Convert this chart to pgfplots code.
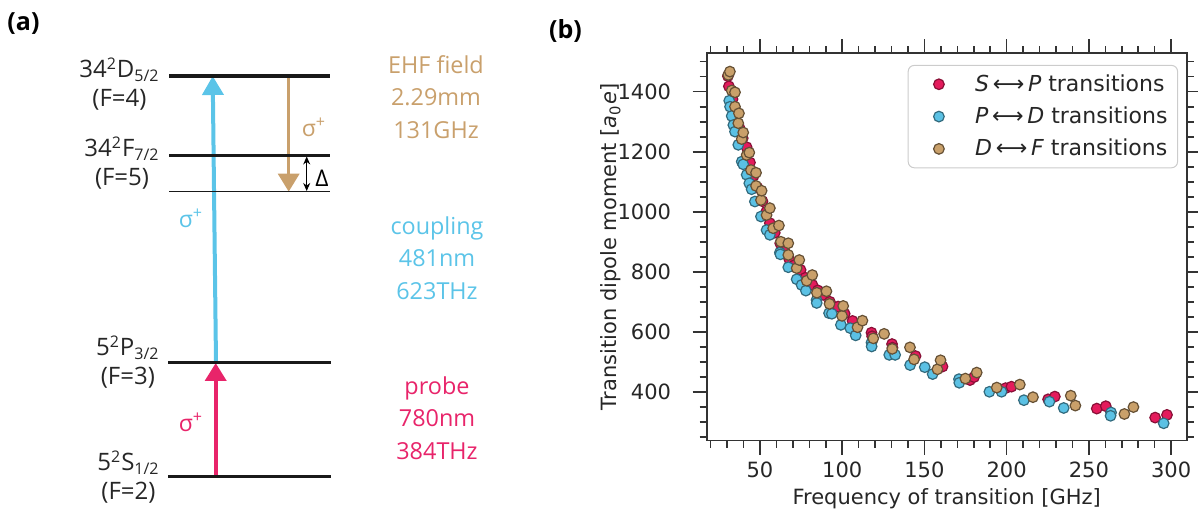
\documentclass[border=0pt]{standalone}
\usepackage{pgfplots}
\pgfplotsset{compat=1.18}
\usepackage{fontspec}
\setmainfont{DejaVu Sans}
\newfontfamily\osans{Open Sans}
\usetikzlibrary{arrows.meta}
\definecolor{cRed}{HTML}{E41B5C}
\definecolor{cBlue}{HTML}{5BC1E4}
\definecolor{cTan}{HTML}{C9A06A}
\definecolor{aRed}{HTML}{E8246A}
\definecolor{aBlue}{HTML}{5BC4E8}
\definecolor{aTan}{HTML}{C9A06C}
\begin{document}
\begin{tikzpicture}
% ---------------- panel (a) ----------------
\begin{axis}[at={(0pt,0pt)}, anchor=south west, scale only axis, width=280pt, height=256pt,
  xmin=0, xmax=560, ymin=0, ymax=512, y dir=reverse, hide axis, clip=false]
 % arrows
 \addplot[aBlue, mark=none, line width=2pt, -{Triangle[width=10.5pt,length=9.5pt]}] coordinates {(216,362.7) (212.7,76)};
 \addplot[aRed, mark=none, line width=2pt, -{Triangle[width=10.5pt,length=9pt]}] coordinates {(215.7,476.7) (215.7,363)};
 \addplot[aTan, mark=none, line width=1.7pt, -{Triangle[width=10.5pt,length=9pt]}] coordinates {(288.7,76) (288.7,191.7)};
 \addplot[black, mark=none, line width=0.5pt, {Stealth[length=4pt,width=3.5pt]}-{Stealth[length=4pt,width=3.5pt]}] coordinates {(306.7,156.5) (306.7,191)};
 % levels
 \addplot[black!90, mark=none, line width=1.65pt] coordinates {(169,76) (330,76)};
 \addplot[black!90, mark=none, line width=1.65pt] coordinates {(169,155.3) (330,155.3)};
 \addplot[black!90, mark=none, line width=0.65pt] coordinates {(169,191.7) (330,191.7)};
 \addplot[black!90, mark=none, line width=1.65pt] coordinates {(168,362.7) (331,362.7)};
 \addplot[black!90, mark=none, line width=1.65pt] coordinates {(168,476.7) (331,476.7)};
 % labels
 \node[font={\osans\bfseries\fontsize{12.5}{13}\selectfont}] at (axis cs:23.5,24) {(a)};
 \node[font={\osans\bfseries\fontsize{12.5}{13}\selectfont}] at (axis cs:565.5,31) {(b)};
 \tikzset{lvl/.style={anchor=east, align=center, inner sep=0pt, text=black!85, font={\osans\fontsize{12}{14.5}\selectfont}}}
 \node[lvl] at (axis cs:160,84) {34\textsuperscript{2}D\textsubscript{5/2}\\(F=4)};
 \node[lvl] at (axis cs:160,163) {34\textsuperscript{2}F\textsubscript{7/2}\\(F=5)};
 \node[lvl] at (axis cs:160,362) {5\textsuperscript{2}P\textsubscript{3/2}\\(F=3)};
 \node[lvl] at (axis cs:160,477) {5\textsuperscript{2}S\textsubscript{1/2}\\(F=2)};
 \tikzset{rt/.style={align=center, inner sep=0pt, font={\osans\fontsize{11.7}{16.3}\selectfont}}}
 \node[rt, text=aTan] at (axis cs:436,97) {EHF field\\2.29mm\\131GHz};
 \node[rt, text=aBlue] at (axis cs:437,258) {coupling\\481nm\\623THz};
 \node[rt, text=aRed] at (axis cs:437,418) {probe\\780nm\\384THz};
 \tikzset{sg/.style={inner sep=0pt, font={\osans\fontsize{11.5}{13}\selectfont}}}
 \node[sg, text=aTan] at (axis cs:314,127) {σ\textsuperscript{+}};
 \node[sg, text=aBlue] at (axis cs:191,218) {σ\textsuperscript{+}};
 \node[sg, text=aRed] at (axis cs:191,422) {σ\textsuperscript{+}};
 \node[sg, text=black] at (axis cs:322,178) {Δ};
\end{axis}
% ---------------- panel (b) ----------------
\begin{axis}[at={(353.35pt,35.65pt)}, anchor=south west, scale only axis, width=240pt, height=193.7pt,
  xmin=17.6, xmax=309.5, ymin=237, ymax=1528,
  xtick={50,100,...,300}, ytick={400,600,...,1400},
  minor xtick={20,30,...,300}, minor ytick={250,300,...,1500},
  tick align=outside,
  major tick length=7pt, minor tick length=3.5pt,
  axis line style={black!80, line width=0.8pt},
  tick style={black!80, line width=0.8pt},
  tick label style={font=\fontsize{10.5}{12}\selectfont, text=black!85},
  /pgf/number format/assume math mode=true,
  /pgf/number format/1000 sep={},
  xticklabel shift=0pt, yticklabel shift=7.3pt,
  xlabel={Frequency of transition [GHz]},
  ylabel={Transition dipole moment [\textit{a}\textsubscript{0}\textit{e}]},
  xlabel style={at={(axis description cs:0.5,-0.150)}, anchor=center, font=\fontsize{10.5}{12}\selectfont, text=black!85},
  ylabel style={at={(axis description cs:-0.199,0.5)}, anchor=center, font=\fontsize{10.5}{12}\selectfont, text=black!85},
  legend style={at={(0.982,0.970)}, anchor=north east, draw=black!20, rounded corners=3pt, line width=0.5pt,
    fill=white, inner xsep=3pt, inner ysep=2.5pt, row sep=2.3pt, column sep=6.5pt,
    font=\fontsize{11}{12.5}\selectfont, text=black!85},
  legend cell align=left,
  legend image code/.code={\path[draw=none,fill=none] (0pt,-1pt) rectangle (22pt,1pt); \draw[#1] plot coordinates {(12.35pt,0pt)};},
]
\addplot[only marks, mark=*, mark size=2.65pt, line width=0.6pt, fill=cRed, draw=cRed!60!black] coordinates {
(30.5,1452) (31.1,1418) (33.3,1375) (35.3,1335) (37.5,1280) (39.5,1245) (41.9,1215) (43.9,1164) (46.2,1120) (48.5,1080) (51.5,1035) (53.8,1000) (56.0,962) (59.0,930) (62.3,895) (65.0,868) (67.8,842) (71.0,822) (74.7,806) (77.6,780) (81.9,756) (85.2,738) (88.6,723) (92.5,700) (97.5,684) (101.5,660) (106.3,636) (117.8,597) (118.2,585) (130.3,559) (130.6,547) (144.6,519) (161.0,484) (177.7,439) (180.2,449) (199.3,412) (202.9,417) (225.2,375) (229.3,384) (254.8,344) (260.3,352) (290.3,314) (297.5,323)
};
\addlegendentry{\textit{S}\,⟷\,\textit{P} transitions}
\addplot[only marks, mark=*, mark size=2.65pt, line width=0.6pt, fill=cBlue, draw=cBlue!55!black] coordinates {
(31.3,1370) (31.8,1350) (32.8,1319) (33.8,1289) (34.8,1267) (36.8,1223) (38.9,1167) (39.8,1158) (41.9,1123) (43.5,1095) (44.9,1075) (46.9,1034) (50.6,984) (54.0,939) (56.0,923) (62.1,864) (62.4,858) (67.2,815) (72.3,775) (75.3,756) (77.9,737) (84.4,706) (84.5,696) (92.0,662) (93.7,660) (99.2,623) (104.9,612) (108.2,588) (117.8,564) (117.9,551) (128.6,523) (132.2,523) (141.3,489) (150.2,482) (155.0,459) (171.0,442) (171.2,430) (189.5,400) (196.9,400) (210.5,372) (226.0,367) (234.7,346) (263.5,331) (263.2,320) (295.5,295)
};
\addlegendentry{\textit{P}\,⟷\,\textit{D} transitions}
\addplot[only marks, mark=*, mark size=2.65pt, line width=0.6pt, fill=cTan, draw=cTan!50!black] coordinates {
(30.7,1456) (31.7,1467) (32.8,1404) (34.8,1398) (34.8,1350) (36.8,1295) (37.2,1328) (38.9,1242) (39.8,1264) (41.9,1189) (43.5,1197) (44.5,1139) (47.6,1130) (47.6,1086) (50.6,1039) (51.0,1070) (54.0,989) (56.0,1012) (58.0,945) (61.5,954) (62.7,900) (67.2,895) (67.2,856) (72.3,812) (73.9,839) (78.4,770) (81.8,789) (84.6,730) (90.4,735) (92.3,693) (99.9,653) (100.6,686) (109.3,615) (112.3,637) (118.9,578) (125.5,593) (130.4,543) (141.2,548) (143.7,508) (157.9,475) (159.8,505) (174.9,444) (181.8,464) (194.0,414) (208.0,424) (216.0,382) (239.0,387) (241.8,354) (271.6,326) (277.1,349)
};
\addlegendentry{\textit{D}\,⟷\,\textit{F} transitions}
\end{axis}
\pgfresetboundingbox
\useasboundingbox (0pt,0pt) rectangle (599pt,256pt);
\end{tikzpicture}
\end{document}
